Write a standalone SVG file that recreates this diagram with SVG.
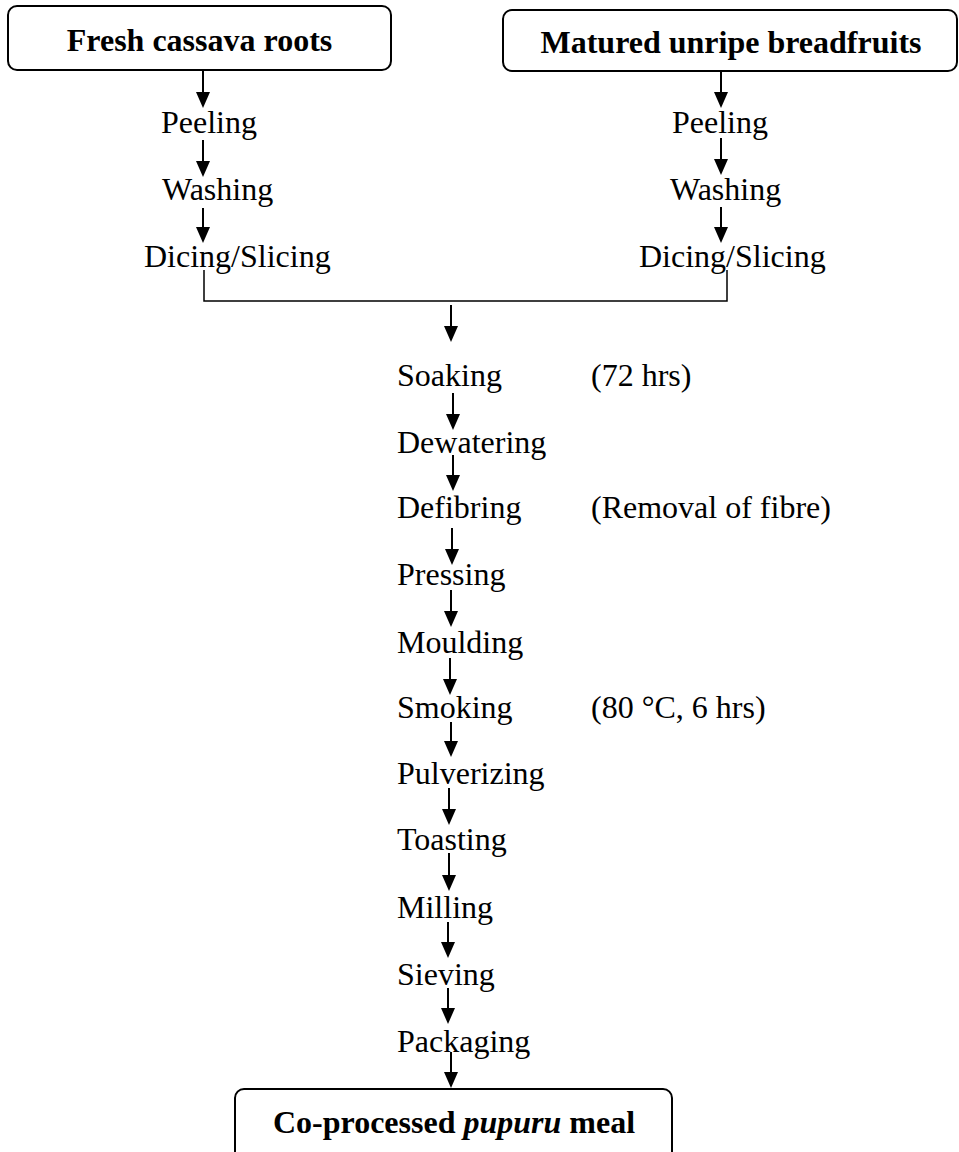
<svg xmlns="http://www.w3.org/2000/svg" width="959" height="1152" viewBox="0 0 959 1152">
<defs>
<style>
.t{font-family:"Liberation Serif","Times New Roman",serif;font-size:32px;fill:#000}
.b{font-weight:bold}
.box{fill:#fff;stroke:#000;stroke-width:2}
.ln{stroke:#000;stroke-width:2;fill:none;marker-end:url(#ah)}
.br{stroke:#000;stroke-width:1.5;fill:none}
</style>
<marker id="ah" markerWidth="16" markerHeight="14" refX="8" refY="7" orient="auto" markerUnits="userSpaceOnUse" viewBox="0 0 16 14">
<path d="M0,0 L16,7 L0,14 Z" fill="#000"/>
</marker>
</defs>
<rect width="959" height="1152" fill="#fff"/>
<g id="connectors">
<line class="ln" x1="203" y1="71" x2="203" y2="100"/>
<line class="ln" x1="203" y1="140" x2="203" y2="169"/>
<line class="ln" x1="203" y1="208" x2="203" y2="235"/>
<line class="ln" x1="721" y1="72" x2="721" y2="100"/>
<line class="ln" x1="721" y1="138" x2="721" y2="167"/>
<line class="ln" x1="721" y1="207" x2="721" y2="235"/>
<polyline class="br" points="204,270 204,301 727,301 727,270"/>
<line class="ln" x1="451" y1="305" x2="451" y2="334"/>
<line class="ln" x1="453" y1="393" x2="453" y2="422"/>
<line class="ln" x1="453" y1="455" x2="453" y2="483"/>
<line class="ln" x1="452" y1="528" x2="452" y2="557"/>
<line class="ln" x1="451" y1="590" x2="451" y2="619"/>
<line class="ln" x1="450" y1="658" x2="450" y2="687"/>
<line class="ln" x1="451" y1="722" x2="451" y2="749"/>
<line class="ln" x1="449" y1="788" x2="449" y2="817"/>
<line class="ln" x1="449" y1="853" x2="449" y2="883"/>
<line class="ln" x1="448" y1="922" x2="448" y2="950"/>
<line class="ln" x1="448" y1="988" x2="448" y2="1016"/>
<line class="ln" x1="451" y1="1052" x2="451" y2="1080"/>
</g>
<g id="cassava">
<rect class="box" x="8" y="6" width="383" height="64" rx="9"/>
<text class="t b" x="199.5" y="51" text-anchor="middle">Fresh cassava roots</text>
</g>
<g id="breadfruit">
<rect class="box" x="503" y="10" width="454" height="61" rx="9"/>
<text class="t b" x="731" y="53" text-anchor="middle">Matured unripe breadfruits</text>
</g>
<g id="left-steps">
<text class="t" x="161" y="133">Peeling</text>
<text class="t" x="162" y="200">Washing</text>
<text class="t" x="144" y="267">Dicing/Slicing</text>
</g>
<g id="right-steps">
<text class="t" x="672" y="133">Peeling</text>
<text class="t" x="670" y="200">Washing</text>
<text class="t" x="639" y="267">Dicing/Slicing</text>
</g>
<g id="soaking"><text class="t" x="397" y="386">Soaking</text><text class="t" x="591" y="386">(72 hrs)</text></g>
<g id="dewatering"><text class="t" x="397" y="453">Dewatering</text></g>
<g id="defibring"><text class="t" x="397" y="518">Defibring</text><text class="t" x="591" y="518">(Removal of fibre)</text></g>
<g id="pressing"><text class="t" x="397" y="585">Pressing</text></g>
<g id="moulding"><text class="t" x="397" y="653">Moulding</text></g>
<g id="smoking"><text class="t" x="397" y="718">Smoking</text><text class="t" x="591" y="718">(80 °C, 6 hrs)</text></g>
<g id="pulverizing"><text class="t" x="397" y="784">Pulverizing</text></g>
<g id="toasting"><text class="t" x="397" y="850">Toasting</text></g>
<g id="milling"><text class="t" x="397" y="918">Milling</text></g>
<g id="sieving"><text class="t" x="397" y="985">Sieving</text></g>
<g id="packaging"><text class="t" x="397" y="1052">Packaging</text></g>
<g id="product">
<rect class="box" x="235" y="1089" width="437" height="72" rx="9"/>
<text class="t b" x="454" y="1133" text-anchor="middle">Co-processed <tspan font-style="italic">pupuru</tspan> meal</text>
</g>
</svg>
